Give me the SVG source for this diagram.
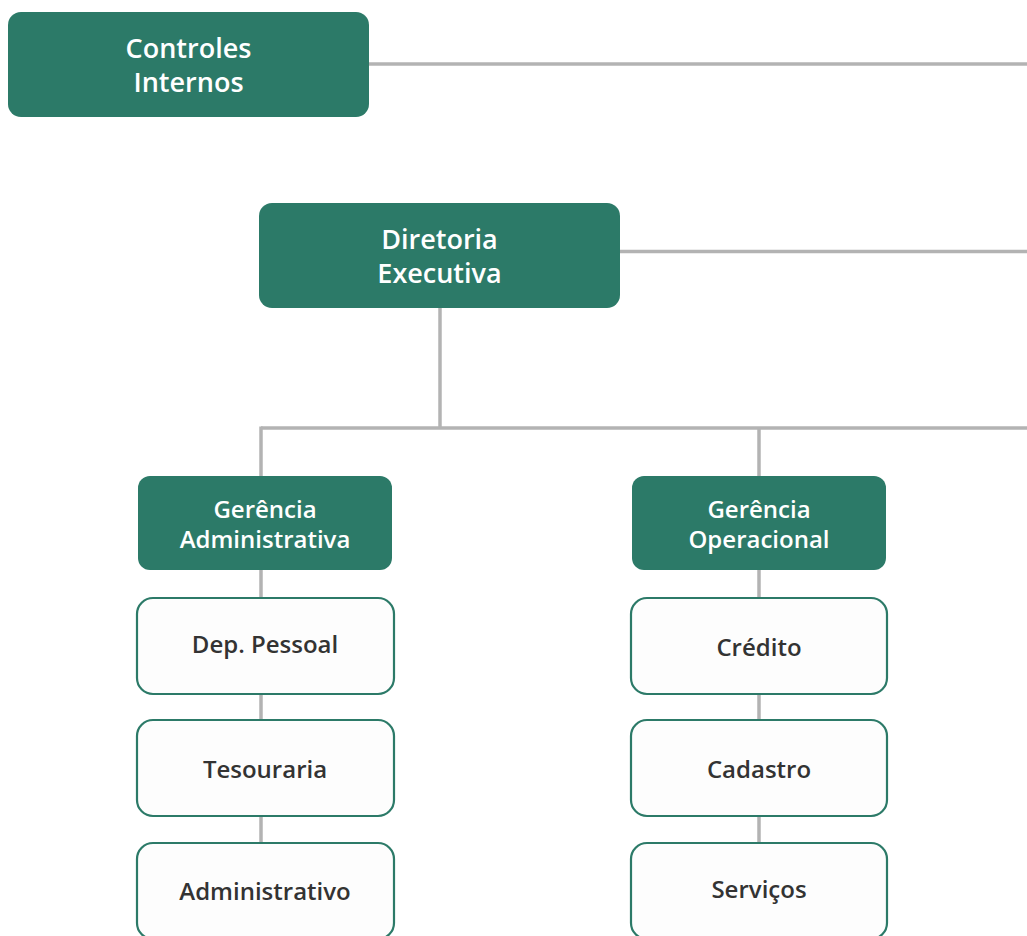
<svg xmlns="http://www.w3.org/2000/svg" width="1027" height="936" viewBox="0 0 1027 936">
<style>
.g{fill:#2c7a68}
.w{fill:#fdfdfd;stroke:#2c7a68;stroke-width:2.2}
.c{stroke:#b3b3b3;stroke-width:3.5;fill:none}
text{font-family:"Open Sans","Noto Sans","Liberation Sans",sans-serif;font-weight:600;text-anchor:middle;dominant-baseline:central}
.tw{fill:#ffffff;font-size:27px}
.tm{fill:#ffffff;font-size:24px}
.td{fill:#333333;font-size:24px}
</style>
<rect width="1027" height="936" fill="#ffffff"/>
<g id="connectors">
<line class="c" x1="369" y1="64" x2="1027" y2="64"/>
<line class="c" x1="620" y1="251.5" x2="1027" y2="251.5"/>
<line class="c" x1="440" y1="307" x2="440" y2="428"/>
<line class="c" x1="261" y1="428" x2="1027" y2="428"/>
<line class="c" x1="261" y1="426.5" x2="261" y2="477"/>
<line class="c" x1="759" y1="428" x2="759" y2="477"/>
<line class="c" x1="261" y1="570" x2="261" y2="597"/>
<line class="c" x1="261" y1="694" x2="261" y2="720"/>
<line class="c" x1="261" y1="817" x2="261" y2="843"/>
<line class="c" x1="759" y1="570" x2="759" y2="597"/>
<line class="c" x1="759" y1="694" x2="759" y2="720"/>
<line class="c" x1="759" y1="817" x2="759" y2="843"/>
</g>
<g id="controles">
<rect class="g" x="8" y="12" width="361" height="105" rx="13"/>
<text class="tw" x="188.5" y="47">Controles</text>
<text class="tw" x="188.5" y="81">Internos</text>
</g>
<g id="diretoria">
<rect class="g" x="259" y="203" width="361" height="105" rx="13"/>
<text class="tw" x="439.5" y="238">Diretoria</text>
<text class="tw" x="439.5" y="272">Executiva</text>
</g>
<g id="ger-adm">
<rect class="g" x="138" y="476" width="254" height="94" rx="12"/>
<text class="tm" x="265" y="508">Gerência</text>
<text class="tm" x="265" y="538">Administrativa</text>
</g>
<g id="ger-op">
<rect class="g" x="632" y="476" width="254" height="94" rx="12"/>
<text class="tm" x="759" y="508">Gerência</text>
<text class="tm" x="759" y="538">Operacional</text>
</g>
<g id="dep-pessoal">
<rect class="w" x="137" y="598" width="257" height="96" rx="16"/>
<text class="td" x="265" y="643">Dep. Pessoal</text>
</g>
<g id="tesouraria">
<rect class="w" x="137" y="720" width="257" height="96" rx="16"/>
<text class="td" x="265" y="768">Tesouraria</text>
</g>
<g id="administrativo">
<rect class="w" x="137" y="843" width="257" height="96" rx="16"/>
<text class="td" x="265" y="890">Administrativo</text>
</g>
<g id="credito">
<rect class="w" x="631" y="598" width="256" height="96" rx="16"/>
<text class="td" x="759" y="646">Crédito</text>
</g>
<g id="cadastro">
<rect class="w" x="631" y="720" width="256" height="96" rx="16"/>
<text class="td" x="759" y="768">Cadastro</text>
</g>
<g id="servicos">
<rect class="w" x="631" y="843" width="256" height="96" rx="16"/>
<text class="td" x="759" y="888">Serviços</text>
</g>
</svg>
